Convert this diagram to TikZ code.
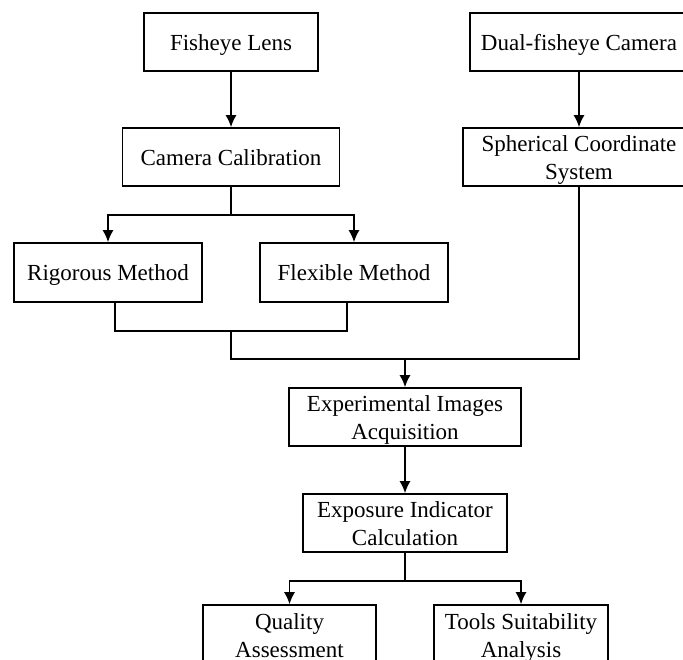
\documentclass[tikz,border=0pt]{standalone}
\usepackage{fontspec}
\setmainfont{Liberation Serif}
\usetikzlibrary{arrows.meta}

\tikzset{
  box/.style={draw, line width=0.8pt, align=center, inner sep=0pt,
    minimum height=29pt, font=\fontsize{11.5}{14}\selectfont},
  oneline/.style={text height=9.5pt, text depth=1.5pt},
  twoline/.style={text height=25pt, text depth=2.5pt},
  flow/.style={line width=0.8pt, -{Latex[length=6pt,width=5.5pt]}},
  link/.style={line width=0.8pt}
}

\begin{document}
\begin{tikzpicture}[x=0.5pt, y=-0.5pt]
      % Frame of the picture (boxes run past the right and lower edges)
      \useasboundingbox (0,0) rectangle (683,659);
      \clip (0,0) rectangle (683,659);

      % Boxes of the flow chart
      \node[box, oneline, minimum width=87pt] (lens) at (231,42) {Fisheye Lens};
      \node[box, oneline, minimum width=108.5pt] (calib) at (231,157) {Camera Calibration};
      \node[box, oneline, minimum width=109pt] (dual) at (579,42) {Dual-fisheye Camera};
      \node[box, twoline, minimum width=116pt] (sph) at (579,157) {Spherical Coordinate\\System};
      \node[box, oneline, minimum width=94pt, minimum height=29.5pt] (rig) at (108,272.5) {Rigorous Method};
      \node[box, oneline, minimum width=94pt, minimum height=29.5pt] (flex) at (354,272.5) {Flexible Method};
      \node[box, twoline, minimum width=116pt] (exp) at (405,417) {Experimental Images\\Acquisition};
      \node[box, twoline, minimum width=102pt] (expo) at (405,523) {Exposure Indicator\\Calculation};
      \node[box, twoline, minimum width=86.5pt, minimum height=30pt] (qual) at (289.5,635) {Quality\\Assessment};
      \node[box, twoline, minimum width=87pt, minimum height=30pt] (tools) at (521,635) {Tools Suitability\\Analysis};

      % Junction points of the connectors
      \coordinate (split1) at (231,215);
      \coordinate (join1) at (231,331);
      \coordinate (join2) at (231,359);
      \coordinate (merge) at (405,359);
      \coordinate (split2) at (405,581);

      % Connectors
      \draw[flow] (lens) -- (lens.south |- calib.north);
      \draw[flow] (dual) -- (dual.south |- sph.north);
      \draw[link] (calib.south) -- (split1);
      \draw[flow] (split1) -| (rig.north);
      \draw[flow] (split1) -| (flex.north);
      \draw[link] ([xshift=3.5pt]rig.south) |- (join1);
      \draw[link] ([xshift=-3.5pt]flex.south) |- (join1);
      \draw[link] (join1) -- (join2) -| (sph.south);
      \draw[flow] (merge) -- (exp.north);
      \draw[flow] (exp.south) -- (expo.north);
      \draw[link] (expo.south) -- (split2);
      \draw[flow] (split2) -| (qual.north);
      \draw[flow] (split2) -| (tools.north);
\end{tikzpicture}
\end{document}
